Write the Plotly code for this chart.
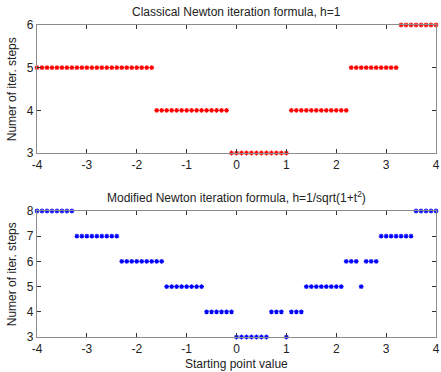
import plotly.graph_objects as go

# Starting points t0 = -4.0, -3.9, ..., 4.0
start_points = [round(-4 + 0.1 * i, 1) for i in range(81)]

# Iteration counts, classical Newton (h = 1)
steps_classical = (
    [5] * 24 +   # -4.0 .. -1.7
    [4] * 15 +   # -1.6 .. -0.2
    [3] * 12 +   # -0.1 .. 1.0
    [4] * 12 +   #  1.1 .. 2.2
    [5] * 10 +   #  2.3 .. 3.2
    [6] * 8      #  3.3 .. 4.0
)

# Iteration counts, modified Newton (h = 1/sqrt(1+t^2))
steps_modified = (
    [8] * 8 +    # -4.0 .. -3.3
    [7] * 9 +    # -3.2 .. -2.4
    [6] * 9 +    # -2.3 .. -1.5
    [5] * 8 +    # -1.4 .. -0.7
    [4] * 6 +    # -0.6 .. -0.1
    [3] * 7 +    #  0.0 .. 0.6
    [4] * 3 +    #  0.7 .. 0.9
    [3] * 1 +    #  1.0
    [4] * 3 +    #  1.1 .. 1.3
    [5] * 8 +    #  1.4 .. 2.1
    [6] * 3 +    #  2.2 .. 2.4
    [5] * 1 +    #  2.5
    [6] * 3 +    #  2.6 .. 2.8
    [7] * 7 +    #  2.9 .. 3.5
    [8] * 5      #  3.6 .. 4.0
)

x_ticks = [-4, -3, -2, -1, 0, 1, 2, 3, 4]
x_tick_text = ["-4", "-3", "-2", "-1", "0", "1", "2", "3", "4"]
top_title = "Classical Newton iteration formula, h=1"
bottom_title = "Modified Newton iteration formula, h=1/sqrt(1+t<sup>2</sup>)"
y_label = "Numer of iter. steps"
x_label = "Starting point value"

W, H = 441, 372
ML, MR, MT, MB = 37, 1, 25, 35
plot_h = H - MT - MB

def py(pix):
    return (H - MB - pix) / plot_h

def px(pix):
    return (pix - ML) / (W - ML - MR)

FONT = "Liberation Sans, Arial"

fig = go.Figure()
fig.add_trace(go.Scatter(
    x=start_points, y=steps_classical, mode="markers",
    marker=dict(symbol="asterisk-open", size=4, color="#ff0000",
                line=dict(width=1.1, color="#ff0000")),
    cliponaxis=False, xaxis="x", yaxis="y", showlegend=False))
fig.add_trace(go.Scatter(
    x=start_points, y=steps_modified, mode="markers",
    marker=dict(symbol="asterisk-open", size=4, color="#0000ff",
                line=dict(width=1.1, color="#0000ff")),
    cliponaxis=False, xaxis="x2", yaxis="y2", showlegend=False))

axis_common = dict(
    showgrid=False, zeroline=False, showline=True, mirror="ticks",
    linecolor="#8c8c8c", linewidth=1.3, ticks="inside", ticklen=4,
    tickcolor="#333333", tickwidth=1, ticklabeloverflow="allow",
    tickfont=dict(family=FONT, size=12, color="#222222"),
)

fig.update_layout(
    width=W, height=H,
    margin=dict(l=ML, r=MR, t=MT, b=MB),
    paper_bgcolor="white", plot_bgcolor="white",
    xaxis=dict(domain=[0, 1], range=[-4, 4], tickvals=x_ticks,
               ticktext=x_tick_text, anchor="y", **axis_common),
    yaxis=dict(domain=[py(153), 1], range=[3, 6], tickvals=[3, 4, 5, 6],
               anchor="x", **axis_common),
    xaxis2=dict(domain=[0, 1], range=[-4, 4], tickvals=x_ticks,
                ticktext=x_tick_text, anchor="y2", **axis_common),
    yaxis2=dict(domain=[0, py(211)], range=[3, 8],
                tickvals=[3, 4, 5, 6, 7, 8], anchor="x2", **axis_common),
)

text_font = dict(family=FONT, size=12, color="#222222")
annotations = [
    dict(text=top_title, x=px(238), y=py(12), xref="paper", yref="paper",
         showarrow=False, font=text_font, xanchor="center", yanchor="middle"),
    dict(text=bottom_title, x=px(238), y=py(197), xref="paper", yref="paper",
         showarrow=False, font=text_font, xanchor="center", yanchor="middle"),
    dict(text=x_label, x=px(238), y=py(364), xref="paper", yref="paper",
         showarrow=False, font=text_font, xanchor="center", yanchor="middle"),
    dict(text=y_label, x=px(12), y=py(89), xref="paper", yref="paper",
         showarrow=False, font=text_font, textangle=-90,
         xanchor="center", yanchor="middle"),
    dict(text=y_label, x=px(12), y=py(274), xref="paper", yref="paper",
         showarrow=False, font=text_font, textangle=-90,
         xanchor="center", yanchor="middle"),
]
fig.update_layout(annotations=annotations)

fig.write_html("out.html")
